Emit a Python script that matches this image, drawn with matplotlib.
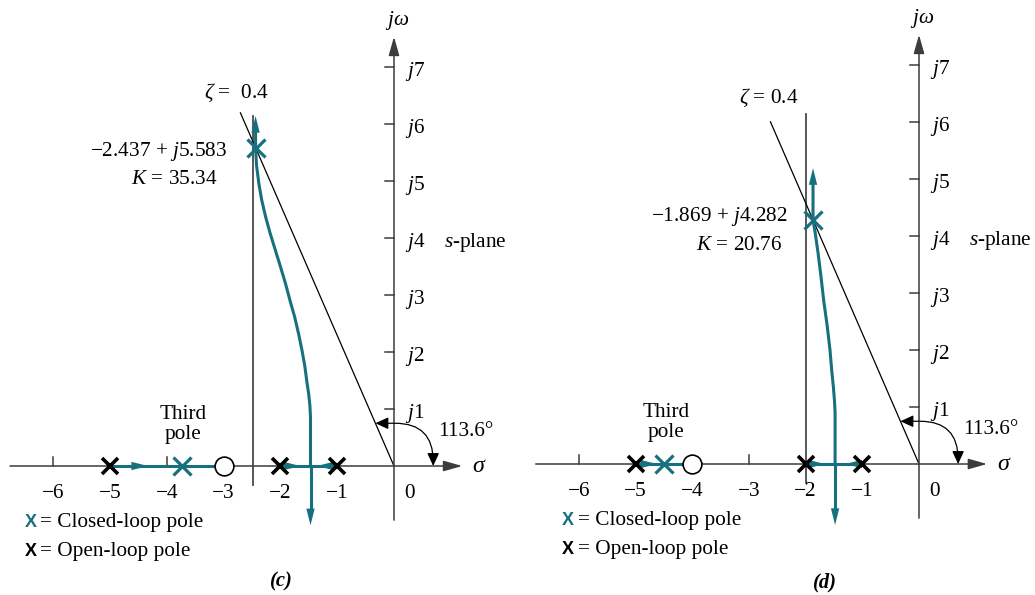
import numpy as np
import matplotlib.pyplot as plt

plt.rcParams['font.family'] = ['Liberation Serif', 'DejaVu Serif']
plt.rcParams['mathtext.fontset'] = 'custom'
plt.rcParams['mathtext.rm'] = 'Liberation Serif'
plt.rcParams['mathtext.it'] = 'Liberation Serif:italic'
plt.rcParams['mathtext.bf'] = 'Liberation Serif:bold'

TEAL = '#17707e'
AXIS = '#3c3c3c'
FS = 15.3

# shared values
ZETA = 0.4
ANGLE_LABEL = '113.6°'
imag_ticks = [1, 2, 3, 4, 5, 6, 7]
real_ticks = [-6, -5, -4, -3, -2, -1]

# panel (c)
c_open_poles = [-5, -2, -1]
c_zero = -3
c_third_pole = -3.73
c_cl_pole = (-2.437, 5.583)
c_K = 35.34
c_breakaway = -1.47
c_locus_sigma = [-1.47, -1.47, -1.47, -1.48, -1.50, -1.53, -1.57, -1.62, -1.68, -1.75, -1.83,
                 -1.91, -2.00, -2.09, -2.18, -2.26, -2.33, -2.38, -2.42, -2.437]
c_locus_omega = [0.0, 0.5, 0.85, 1.05, 1.25, 1.45, 1.75, 2.03, 2.32, 2.62, 2.9,
                 3.2, 3.5, 3.79, 4.08, 4.37, 4.67, 4.96, 5.27, 5.583]
c_locus_top = 6.14
c_locus_bottom = -1.04
c_vline = -2.49
c_bare_ticks = [-6, -4]
c_axis_arrows = [(-4.33, 1), (-1.65, 1), (-1.36, -1)]

# panel (d)
d_open_poles = [-5, -2, -1]
d_zero = -4
d_third_pole = -4.5
d_cl_pole = (-1.869, 4.282)
d_K = 20.76
d_breakaway = -1.48
d_locus_sigma = [-1.48, -1.48, -1.48, -1.49, -1.51, -1.54, -1.57, -1.62, -1.68, -1.73, -1.78, -1.83, -1.869]
d_locus_omega = [0.0, 0.5, 0.9, 1.1, 1.35, 1.65, 2.0, 2.43, 2.86, 3.3, 3.7, 4.05, 4.282]
d_locus_top = 5.19
d_locus_bottom = -1.07
d_vline = -2.0
d_bare_ticks = [-6, -3]
d_axis_arrows = [(-4.62, 1), (-1.66, 1), (-1.30, -1)]

W, H = 1035, 595


def make_axes(fig, left_px, width_px, x0_px, y0_px, sx=56.8, sy=57.0):
    ax = fig.add_axes([left_px / W, 0, width_px / W, 1])
    ax.set_xlim((left_px - x0_px) / sx, (left_px + width_px - x0_px) / sx)
    ax.set_ylim((y0_px - H) / sy, y0_px / sy)
    ax.axis('off')
    return ax


def head(ax, tip, tail, color, ms=12, hl=1.0, hw=0.25, z=5):
    ax.annotate('', xy=tip, xytext=tail,
                arrowprops=dict(arrowstyle=f'-|>,head_length={hl},head_width={hw}',
                                color=color, lw=0, shrinkA=0, shrinkB=0,
                                mutation_scale=ms), zorder=z)


def draw_panel(ax, open_poles, zero, third_pole, cl_pole, K, breakaway,
               loc_s, loc_w, loc_top, loc_bottom, vline, bare_ticks, axis_arrows,
               name, pos):
    # axes with arrows
    ax.annotate('', xy=(1.2, 0), xytext=(-6.76, 0),
                arrowprops=dict(arrowstyle='-|>,head_length=0.95,head_width=0.27',
                                color=AXIS, lw=1.1, shrinkA=0, shrinkB=0, mutation_scale=12))
    ax.annotate('', xy=(0, 7.53), xytext=(0, -0.95),
                arrowprops=dict(arrowstyle='-|>,head_length=0.95,head_width=0.27',
                                color=AXIS, lw=1.1, shrinkA=0, shrinkB=0, mutation_scale=12))
    for k in imag_ticks:
        ax.plot([-0.16, 0], [k, k], color=AXIS, lw=1.1)
        ax.text(0.19, k - 0.08, f'$j${k}', fontsize=FS, ha='left', va='center')
    for t in bare_ticks:
        ax.plot([t, t], [0, 0.15], color=AXIS, lw=1.1)
    for t in real_ticks:
        ax.text(t, -0.48, f'\u2212{abs(t)}', fontsize=FS, ha='center', va='center')
    ax.text(0.27, -0.48, '0', fontsize=FS, ha='center', va='center')
    ax.text(0.06, 7.82, r'$j\omega$', fontsize=FS, ha='center', va='center')
    ax.text(1.5, 0, r'$\sigma$', fontsize=FS + 2, ha='center', va='center')
    ax.text(0.88, 4.0 - 0.08, r'$s$-plane', fontsize=FS, ha='left', va='center')

    # vertical reference line through the closed-loop pole
    ax.plot([vline, vline], [-0.33, 6.14], color='#4a4a4a', lw=1.3, zorder=2)

    # zeta line and angle
    theta = np.arccos(ZETA)
    r = pos['zeta_len']
    ax.plot([0, -r * np.cos(theta)], [0, r * np.sin(theta)], color='black', lw=0.9, zorder=2)
    wa = 0.75
    ax.annotate('', xy=(-wa * np.cos(theta) / np.sin(theta), wa), xytext=(0.69, 0),
                arrowprops=dict(arrowstyle='<|-|>,head_length=0.65,head_width=0.3',
                                color='black', lw=0.9, shrinkA=0, shrinkB=0, mutation_scale=12,
                                connectionstyle='angle,angleA=90,angleB=0,rad=38'))
    ax.text(0.77, 0.6, ANGLE_LABEL, fontsize=FS, ha='left', va='center')
    ax.text(pos['zeta'][0], pos['zeta'][1], pos['zeta_txt'], fontsize=FS, ha='center', va='center')

    # root locus
    ax.plot([open_poles[0], zero], [0, 0], color=TEAL, lw=2.2, zorder=3)
    ax.plot([open_poles[1], open_poles[2]], [0, 0], color=TEAL, lw=2.2, zorder=3)
    for tip, d in axis_arrows:
        head(ax, (tip, 0), (tip - 0.3 * d, 0), TEAL)
    ax.plot(loc_s + [loc_s[-1]], loc_w + [loc_top - 0.25], color=TEAL, lw=2.2, zorder=3,
            solid_capstyle='butt', solid_joinstyle='round')
    head(ax, (loc_s[-1], loc_top), (loc_s[-1], loc_top - 0.3), TEAL)
    ax.plot([breakaway, breakaway], [0, loc_bottom + 0.25], color=TEAL, lw=2.2, zorder=3,
            solid_capstyle='butt')
    head(ax, (breakaway, loc_bottom), (breakaway, loc_bottom + 0.3), TEAL)

    # poles and zero
    ax.plot(open_poles, [0] * len(open_poles), 'x', color='black', ms=11.5, mew=2.6, zorder=6)
    ax.plot([third_pole, cl_pole[0]], [0, cl_pole[1]], 'x', color=TEAL, ms=12.5, mew=2.3, zorder=6)
    ax.plot([zero], [0], 'o', ms=13.5, mfc='white', mec='black', mew=1.2, zorder=6)

    # annotations
    ax.text(third_pole + pos['third_dx'], 0.73, 'Third\npole', fontsize=FS, ha='center',
            va='center', linespacing=1.1)
    ax.text(pos['ann'][0], pos['ann'][1], f'\u2212{abs(cl_pole[0]):.3f} + $j${cl_pole[1]:.3f}',
            fontsize=FS, ha='right', va='center')
    ax.text(pos['kann'][0], pos['kann'][1], f'$K$ = {K:.2f}', fontsize=FS, ha='right', va='center')

    # legend
    lx, tx = pos['legend']
    for y, col, lab in [(-0.99, TEAL, '= Closed-loop pole'), (-1.5, 'black', '= Open-loop pole')]:
        ax.text(lx, y, 'X', family='Liberation Sans', fontsize=13, fontweight='bold',
                color=col, ha='center', va='center')
        ax.text(tx, y, lab, fontsize=FS, ha='left', va='center')

    ax.text(pos['name'][0], pos['name'][1], name, fontsize=FS - 0.5, fontweight='bold',
            style='italic', ha='center', va='center')


fig = plt.figure(figsize=(W / 100, H / 100), dpi=100)

ax_c = make_axes(fig, 0, 500, 394, 466)
draw_panel(ax_c, c_open_poles, c_zero, c_third_pole, c_cl_pole, c_K, c_breakaway,
           c_locus_sigma, c_locus_omega, c_locus_top, c_locus_bottom, c_vline,
           c_bare_ticks, c_axis_arrows, '(c)',
           dict(zeta_len=6.76, zeta=(-2.77, 6.54), zeta_txt=r'$\zeta$ =  0.4',
                third_dx=0.02, ann=(-2.94, 5.51), kann=(-3.10, 5.02),
                legend=(-6.40, -6.23), name=(-1.99, -2.03)))

ax_d = make_axes(fig, 520, 515, 919, 464, sx=56.7)
draw_panel(ax_d, d_open_poles, d_zero, d_third_pole, d_cl_pole, d_K, d_breakaway,
           d_locus_sigma, d_locus_omega, d_locus_top, d_locus_bottom, d_vline,
           d_bare_ticks, d_axis_arrows, '(d)',
           dict(zeta_len=6.55, zeta=(-2.65, 6.42), zeta_txt=r'$\zeta$ = 0.4',
                third_dx=0.04, ann=(-2.31, 4.34), kann=(-2.42, 3.84),
                legend=(-6.20, -6.01), name=(-1.66, -2.07)))

fig.savefig('out.png', dpi=100)
